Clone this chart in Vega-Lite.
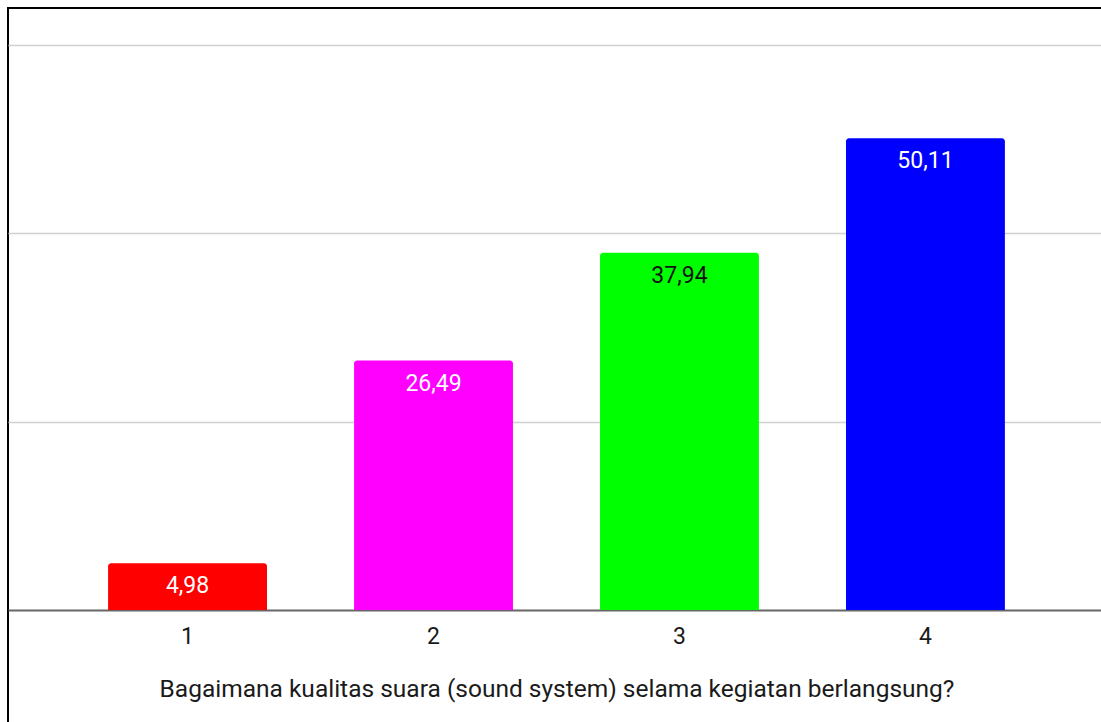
{
  "$schema": "https://vega.github.io/schema/vega-lite/v6.json",
  "autosize": {"type": "none"},
  "padding": {"left": 8, "top": 8, "right": 0, "bottom": 0},
  "width": 1097,
  "height": 730,
  "background": "#ffffff",
  "config": {
    "view": {"stroke": "#000000", "strokeWidth": 2},
    "font": "Roboto"
  },
  "data": {
    "values": [
      {"kategori": "1", "nilai": 4.98, "label": "4,98"},
      {"kategori": "2", "nilai": 26.49, "label": "26,49"},
      {"kategori": "3", "nilai": 37.94, "label": "37,94"},
      {"kategori": "4", "nilai": 50.11, "label": "50,11"}
    ]
  },
  "encoding": {
    "x": {
      "field": "kategori",
      "type": "ordinal",
      "scale": {"paddingInner": 0.354, "paddingOuter": 0.407},
      "axis": {
        "title": "Bagaimana kualitas suara (sound system) selama kegiatan berlangsung?",
        "orient": "bottom",
        "offset": -128,
        "labelAngle": 0,
        "labelFont": "Roboto",
        "labelFontSize": 23,
        "labelColor": "#1a1a1a",
        "labelPadding": 15,
        "ticks": false,
        "domainColor": "#666666",
        "domainWidth": 2,
        "titleFont": "Roboto",
        "titleFontSize": 24.5,
        "titleFontWeight": "normal",
        "titleColor": "#1a1a1a",
        "titlePadding": 29
      }
    }
  },
  "layer": [
    {
      "mark": {"type": "bar", "cornerRadiusTopLeft": 3, "cornerRadiusTopRight": 3},
      "encoding": {
        "y": {
          "field": "nilai",
          "type": "quantitative",
          "scale": {"domain": [-13.59, 63.93], "nice": false, "zero": false},
          "axis": {
            "title": null,
            "values": [20, 40, 60],
            "labels": false,
            "ticks": false,
            "domain": false,
            "grid": true,
            "gridColor": "#d0d0d0",
            "gridWidth": 1.5
          }
        },
        "y2": {"datum": 0},
        "color": {
          "field": "kategori",
          "type": "nominal",
          "scale": {"domain": ["1", "2", "3", "4"], "range": ["#ff0000", "#ff00ff", "#00ff00", "#0000ff"]},
          "legend": null
        }
      }
    },
    {
      "mark": {"type": "text", "baseline": "middle", "align": "center", "dy": 23, "fontSize": 23, "font": "Roboto"},
      "encoding": {
        "y": {"field": "nilai", "type": "quantitative"},
        "text": {"field": "label"},
        "color": {
          "condition": {"test": "datum.kategori == '3'", "value": "#111111"},
          "value": "#ffffff"
        }
      }
    }
  ]
}
